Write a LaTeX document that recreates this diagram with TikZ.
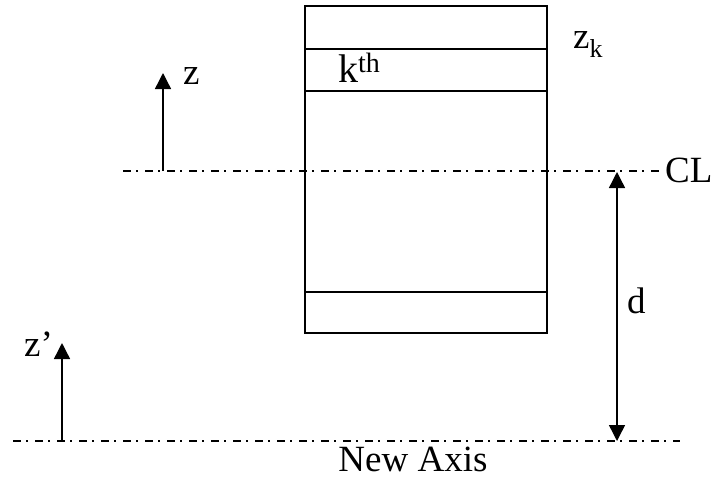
\documentclass[tikz,border=0pt]{standalone}
\usepackage{fontspec}
\setmainfont{Liberation Serif}
\usetikzlibrary{arrows.meta}
\tikzset{
  ln/.style={line width=1.4pt},
  tip/.tip={Triangle[width=16pt,length=16pt]},
  axisline/.style={line width=1.4pt, dash pattern=on 8pt off 5pt on 2pt off 7pt},
  uparrow/.style={line width=1.4pt, -tip},
  lbl/.style={inner sep=0pt, font=\fontsize{37}{40}\selectfont}
}
\begin{document}
\begin{tikzpicture}[x=1pt,y=-1pt]
\useasboundingbox (0,0) rectangle (717,483);
% laminate
\node[ln, draw, minimum width=242pt, minimum height=327pt, inner sep=0pt] (lam) at (426,169.5) {};
\coordinate (l1w) at (304,49); \coordinate (l1e) at (547,49);
\coordinate (l2w) at (304,91); \coordinate (l2e) at (547,91);
\coordinate (l3w) at (305,292); \coordinate (l3e) at (547,292);
\draw[ln] (l1w) -- (l1e);
\draw[ln] (l2w) -- (l2e);
\draw[ln] (l3w) -- (l3e);
% center line
\coordinate (clw) at (123,171); \coordinate (cle) at (660,171);
\draw[axisline] (clw) -- (cle);
\node[lbl, anchor=base west] (cl) at (665,182) {CL};
% new axis
\coordinate (naw) at (13,441); \coordinate (nae) at (680,441);
\draw[axisline] (naw) -- (nae);
\node[lbl, anchor=base] (na) at (413,471) {New Axis};
% z arrow
\coordinate (zb) at (163,171); \coordinate (zt) at (163,73);
\draw[uparrow] (zb) -- (zt);
\node[lbl, anchor=base west] (zl) at (183,84) {z};
% z' arrow
\coordinate (zpb) at (62,441); \coordinate (zpt) at (62,343);
\draw[uparrow] (zpb) -- (zpt);
\node[lbl, anchor=base west] (zpl) at (24,356) {z’};
% d arrow
\coordinate (dt) at (617,172); \coordinate (db) at (617,441);
\draw[line width=1.4pt, tip-tip] (dt) -- (db);
\node[lbl, anchor=base west] (dl) at (627,313) {d};
% labels
\node[lbl, anchor=base west] (zk) at (573,48) {z\textsubscript{k}};
\node[lbl, anchor=base west, font=\fontsize{40}{44}\selectfont] (kth) at (338,82) {k\textsuperscript{th}};
\end{tikzpicture}
\end{document}
